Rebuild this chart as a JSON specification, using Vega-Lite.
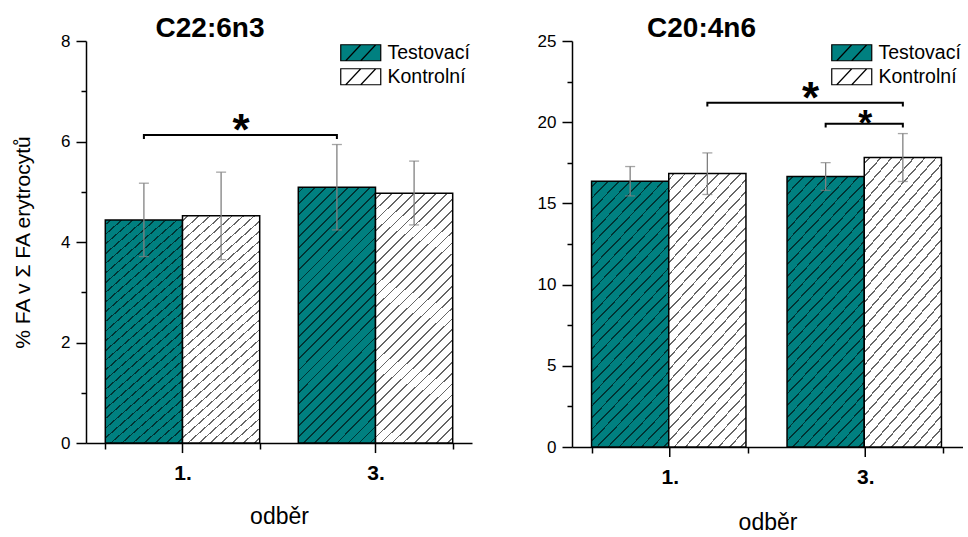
{
  "$schema": "https://vega.github.io/schema/vega-lite/v6.json",
  "background": "white",
  "padding": {"left": 12, "top": 15, "right": 0, "bottom": 0},
  "datasets": {
    "c22": [
      {"odber": "1.", "skupina": "Testovací", "mean": 4.44, "lo": 3.71, "hi": 5.17},
      {"odber": "1.", "skupina": "Kontrolní", "mean": 4.52, "lo": 3.65, "hi": 5.39},
      {"odber": "3.", "skupina": "Testovací", "mean": 5.09, "lo": 4.24, "hi": 5.94},
      {"odber": "3.", "skupina": "Kontrolní", "mean": 4.97, "lo": 4.34, "hi": 5.61}
    ],
    "c20": [
      {"odber": "1.", "skupina": "Testovací", "mean": 16.37, "lo": 15.46, "hi": 17.27},
      {"odber": "1.", "skupina": "Kontrolní", "mean": 16.84, "lo": 15.55, "hi": 18.11},
      {"odber": "3.", "skupina": "Testovací", "mean": 16.65, "lo": 15.8, "hi": 17.51},
      {"odber": "3.", "skupina": "Kontrolní", "mean": 17.82, "lo": 16.35, "hi": 19.3}
    ],
    "br22": [
      {"id": "a", "o": 1, "odber": "1.", "skupina": "Testovací", "v": 6.05},
      {"id": "a", "o": 2, "odber": "1.", "skupina": "Testovací", "v": 6.13},
      {"id": "a", "o": 3, "odber": "3.", "skupina": "Testovací", "v": 6.13},
      {"id": "a", "o": 4, "odber": "3.", "skupina": "Testovací", "v": 6.05}
    ],
    "br20": [
      {"id": "a", "o": 1, "odber": "1.", "skupina": "Kontrolní", "v": 20.97},
      {"id": "a", "o": 2, "odber": "1.", "skupina": "Kontrolní", "v": 21.2},
      {"id": "a", "o": 3, "odber": "3.", "skupina": "Kontrolní", "v": 21.2},
      {"id": "a", "o": 4, "odber": "3.", "skupina": "Kontrolní", "v": 20.97},
      {"id": "b", "o": 1, "odber": "3.", "skupina": "Testovací", "v": 19.68},
      {"id": "b", "o": 2, "odber": "3.", "skupina": "Testovací", "v": 19.9},
      {"id": "b", "o": 3, "odber": "3.", "skupina": "Kontrolní", "v": 19.9},
      {"id": "b", "o": 4, "odber": "3.", "skupina": "Kontrolní", "v": 19.68}
    ],
    "st22": [{"odber": "1.", "skupina": "Kontrolní", "v": 6.13, "t": "*"}],
    "st20big": [{"odber": "3.", "skupina": "Testovací", "v": 21.2, "t": "*"}],
    "st20small": [{"odber": "3.", "v": 19.9, "t": "*"}],
    "xt": [{"odber": "1."}, {"odber": "3."}]
  },
  "spacing": 65,
  "resolve": {"scale": {"fill": "independent"}},
  "hconcat": [
    {
      "width": 386,
      "height": 402,
      "title": {"text": "C22:6n3", "fontSize": 28, "fontWeight": "bold", "font": "Liberation Sans", "color": "black", "anchor": "middle", "dx": -69, "offset": -11, "frame": "group"},
      "layer": [
        {
          "data": {"name": "c22"},
          "mark": {"type": "bar", "stroke": "black", "strokeWidth": 1.5},
          "encoding": {
            "x": {"field": "odber", "type": "nominal", "sort": ["1.", "3."], "scale": {"paddingInner": 0.2, "paddingOuter": 0.1},
                  "axis": {"title": "odběr", "labelAngle": 0, "tickBand": "extent", "tickSize": 6, "labelFontWeight": "bold", "labelFontSize": 21, "labelPadding": 13, "titlePadding": 22, "titleFontSize": 23}},
            "xOffset": {"field": "skupina", "type": "nominal", "scale": {"domain": ["Testovací", "Kontrolní"], "paddingInner": 0, "paddingOuter": 0}},
            "y": {"field": "mean", "type": "quantitative", "scale": {"domain": [0, 8], "nice": false},
                  "axis": {"title": "% FA v Σ FA erytrocytů", "values": [0, 1, 2, 3, 4, 5, 6, 7, 8], "labelExpr": "datum.value % 2 === 0 ? datum.label : ''",
                           "tickSize": {"condition": {"test": "datum.value % 2 === 0", "value": 10}, "value": 5},
                           "labelPadding": 6, "labelFontSize": 17, "titleFontSize": 21, "titlePadding": 27}},
            "fill": {"field": "skupina", "type": "nominal", "scale": {"domain": ["Testovací", "Kontrolní"], "range": ["#008080", "#ffffff"]},
                     "legend": {"title": null, "orient": "top-right", "offset": 2, "padding": 0, "symbolType": "M-2.5,-1H2.5V1H-2.5Z M-1.875,1L0,-1 M0,1L1.875,-1", "symbolSize": 256, "symbolStrokeColor": "black", "symbolStrokeWidth": 1.2, "symbolOpacity": 1, "labelFontSize": 19.5, "labelFont": "Liberation Sans", "labelColor": "black", "labelOffset": 17, "rowPadding": 2}}
          }
        },
        {
          "data": {"name": "c22"},
          "mark": {"type": "bar", "stroke": null, "fill": {
          "gradient": "linear", "x1": 0, "y1": 0, "x2": 0.362, "y2": 1.194,
          "stops": [
            {"offset": 0.014, "color": "rgba(0,0,0,0)"}, {"offset": 0.014, "color": "rgba(0,0,0,0.6)"}, {"offset": 0.0193, "color": "rgba(0,0,0,0.6)"}, {"offset": 0.0193, "color": "rgba(0,0,0,0)"},
            {"offset": 0.0473, "color": "rgba(0,0,0,0)"}, {"offset": 0.0473, "color": "rgba(0,0,0,0.6)"}, {"offset": 0.0527, "color": "rgba(0,0,0,0.6)"}, {"offset": 0.0527, "color": "rgba(0,0,0,0)"},
            {"offset": 0.0807, "color": "rgba(0,0,0,0)"}, {"offset": 0.0807, "color": "rgba(0,0,0,0.6)"}, {"offset": 0.086, "color": "rgba(0,0,0,0.6)"}, {"offset": 0.086, "color": "rgba(0,0,0,0)"},
            {"offset": 0.114, "color": "rgba(0,0,0,0)"}, {"offset": 0.114, "color": "rgba(0,0,0,0.6)"}, {"offset": 0.1193, "color": "rgba(0,0,0,0.6)"}, {"offset": 0.1193, "color": "rgba(0,0,0,0)"},
            {"offset": 0.1473, "color": "rgba(0,0,0,0)"}, {"offset": 0.1473, "color": "rgba(0,0,0,0.6)"}, {"offset": 0.1527, "color": "rgba(0,0,0,0.6)"}, {"offset": 0.1527, "color": "rgba(0,0,0,0)"},
            {"offset": 0.1807, "color": "rgba(0,0,0,0)"}, {"offset": 0.1807, "color": "rgba(0,0,0,0.6)"}, {"offset": 0.186, "color": "rgba(0,0,0,0.6)"}, {"offset": 0.186, "color": "rgba(0,0,0,0)"},
            {"offset": 0.214, "color": "rgba(0,0,0,0)"}, {"offset": 0.214, "color": "rgba(0,0,0,0.6)"}, {"offset": 0.2193, "color": "rgba(0,0,0,0.6)"}, {"offset": 0.2193, "color": "rgba(0,0,0,0)"},
            {"offset": 0.2473, "color": "rgba(0,0,0,0)"}, {"offset": 0.2473, "color": "rgba(0,0,0,0.6)"}, {"offset": 0.2527, "color": "rgba(0,0,0,0.6)"}, {"offset": 0.2527, "color": "rgba(0,0,0,0)"},
            {"offset": 0.2807, "color": "rgba(0,0,0,0)"}, {"offset": 0.2807, "color": "rgba(0,0,0,0.6)"}, {"offset": 0.286, "color": "rgba(0,0,0,0.6)"}, {"offset": 0.286, "color": "rgba(0,0,0,0)"},
            {"offset": 0.314, "color": "rgba(0,0,0,0)"}, {"offset": 0.314, "color": "rgba(0,0,0,0.6)"}, {"offset": 0.3193, "color": "rgba(0,0,0,0.6)"}, {"offset": 0.3193, "color": "rgba(0,0,0,0)"},
            {"offset": 0.3473, "color": "rgba(0,0,0,0)"}, {"offset": 0.3473, "color": "rgba(0,0,0,0.6)"}, {"offset": 0.3527, "color": "rgba(0,0,0,0.6)"}, {"offset": 0.3527, "color": "rgba(0,0,0,0)"},
            {"offset": 0.3807, "color": "rgba(0,0,0,0)"}, {"offset": 0.3807, "color": "rgba(0,0,0,0.6)"}, {"offset": 0.386, "color": "rgba(0,0,0,0.6)"}, {"offset": 0.386, "color": "rgba(0,0,0,0)"},
            {"offset": 0.414, "color": "rgba(0,0,0,0)"}, {"offset": 0.414, "color": "rgba(0,0,0,0.6)"}, {"offset": 0.4193, "color": "rgba(0,0,0,0.6)"}, {"offset": 0.4193, "color": "rgba(0,0,0,0)"},
            {"offset": 0.4473, "color": "rgba(0,0,0,0)"}, {"offset": 0.4473, "color": "rgba(0,0,0,0.6)"}, {"offset": 0.4527, "color": "rgba(0,0,0,0.6)"}, {"offset": 0.4527, "color": "rgba(0,0,0,0)"},
            {"offset": 0.4807, "color": "rgba(0,0,0,0)"}, {"offset": 0.4807, "color": "rgba(0,0,0,0.6)"}, {"offset": 0.486, "color": "rgba(0,0,0,0.6)"}, {"offset": 0.486, "color": "rgba(0,0,0,0)"},
            {"offset": 0.514, "color": "rgba(0,0,0,0)"}, {"offset": 0.514, "color": "rgba(0,0,0,0.6)"}, {"offset": 0.5193, "color": "rgba(0,0,0,0.6)"}, {"offset": 0.5193, "color": "rgba(0,0,0,0)"},
            {"offset": 0.5473, "color": "rgba(0,0,0,0)"}, {"offset": 0.5473, "color": "rgba(0,0,0,0.6)"}, {"offset": 0.5527, "color": "rgba(0,0,0,0.6)"}, {"offset": 0.5527, "color": "rgba(0,0,0,0)"},
            {"offset": 0.5807, "color": "rgba(0,0,0,0)"}, {"offset": 0.5807, "color": "rgba(0,0,0,0.6)"}, {"offset": 0.586, "color": "rgba(0,0,0,0.6)"}, {"offset": 0.586, "color": "rgba(0,0,0,0)"},
            {"offset": 0.614, "color": "rgba(0,0,0,0)"}, {"offset": 0.614, "color": "rgba(0,0,0,0.6)"}, {"offset": 0.6193, "color": "rgba(0,0,0,0.6)"}, {"offset": 0.6193, "color": "rgba(0,0,0,0)"},
            {"offset": 0.6473, "color": "rgba(0,0,0,0)"}, {"offset": 0.6473, "color": "rgba(0,0,0,0.6)"}, {"offset": 0.6527, "color": "rgba(0,0,0,0.6)"}, {"offset": 0.6527, "color": "rgba(0,0,0,0)"},
            {"offset": 0.6807, "color": "rgba(0,0,0,0)"}, {"offset": 0.6807, "color": "rgba(0,0,0,0.6)"}, {"offset": 0.686, "color": "rgba(0,0,0,0.6)"}, {"offset": 0.686, "color": "rgba(0,0,0,0)"},
            {"offset": 0.714, "color": "rgba(0,0,0,0)"}, {"offset": 0.714, "color": "rgba(0,0,0,0.6)"}, {"offset": 0.7193, "color": "rgba(0,0,0,0.6)"}, {"offset": 0.7193, "color": "rgba(0,0,0,0)"},
            {"offset": 0.7473, "color": "rgba(0,0,0,0)"}, {"offset": 0.7473, "color": "rgba(0,0,0,0.6)"}, {"offset": 0.7527, "color": "rgba(0,0,0,0.6)"}, {"offset": 0.7527, "color": "rgba(0,0,0,0)"},
            {"offset": 0.7807, "color": "rgba(0,0,0,0)"}, {"offset": 0.7807, "color": "rgba(0,0,0,0.6)"}, {"offset": 0.786, "color": "rgba(0,0,0,0.6)"}, {"offset": 0.786, "color": "rgba(0,0,0,0)"},
            {"offset": 0.814, "color": "rgba(0,0,0,0)"}, {"offset": 0.814, "color": "rgba(0,0,0,0.6)"}, {"offset": 0.8193, "color": "rgba(0,0,0,0.6)"}, {"offset": 0.8193, "color": "rgba(0,0,0,0)"},
            {"offset": 0.8473, "color": "rgba(0,0,0,0)"}, {"offset": 0.8473, "color": "rgba(0,0,0,0.6)"}, {"offset": 0.8527, "color": "rgba(0,0,0,0.6)"}, {"offset": 0.8527, "color": "rgba(0,0,0,0)"},
            {"offset": 0.8807, "color": "rgba(0,0,0,0)"}, {"offset": 0.8807, "color": "rgba(0,0,0,0.6)"}, {"offset": 0.886, "color": "rgba(0,0,0,0.6)"}, {"offset": 0.886, "color": "rgba(0,0,0,0)"},
            {"offset": 0.914, "color": "rgba(0,0,0,0)"}, {"offset": 0.914, "color": "rgba(0,0,0,0.6)"}, {"offset": 0.9193, "color": "rgba(0,0,0,0.6)"}, {"offset": 0.9193, "color": "rgba(0,0,0,0)"},
            {"offset": 0.9473, "color": "rgba(0,0,0,0)"}, {"offset": 0.9473, "color": "rgba(0,0,0,0.6)"}, {"offset": 0.9527, "color": "rgba(0,0,0,0.6)"}, {"offset": 0.9527, "color": "rgba(0,0,0,0)"},
            {"offset": 0.9807, "color": "rgba(0,0,0,0)"}, {"offset": 0.9807, "color": "rgba(0,0,0,0.6)"}, {"offset": 0.986, "color": "rgba(0,0,0,0.6)"}, {"offset": 0.986, "color": "rgba(0,0,0,0)"}
          ]}},
          "encoding": {
            "x": {"field": "odber", "type": "nominal"},
            "xOffset": {"field": "skupina", "type": "nominal"},
            "y": {"field": "mean", "type": "quantitative"}
          }
        },
        {
          "data": {"name": "c22"},
          "mark": {"type": "rule", "color": "#808080", "strokeWidth": 1.3},
          "encoding": {
            "x": {"field": "odber", "type": "nominal"},
            "xOffset": {"field": "skupina", "type": "nominal"},
            "y": {"field": "lo", "type": "quantitative"},
            "y2": {"field": "hi"}
          }
        },
        {
          "data": {"name": "c22"},
          "mark": {"type": "tick", "color": "#808080", "thickness": 1.3, "size": 10},
          "encoding": {
            "x": {"field": "odber", "type": "nominal"},
            "xOffset": {"field": "skupina", "type": "nominal"},
            "y": {"field": "lo", "type": "quantitative"}
          }
        },
        {
          "data": {"name": "c22"},
          "mark": {"type": "tick", "color": "#808080", "thickness": 1.3, "size": 10},
          "encoding": {
            "x": {"field": "odber", "type": "nominal"},
            "xOffset": {"field": "skupina", "type": "nominal"},
            "y": {"field": "hi", "type": "quantitative"}
          }
        },
        {
          "data": {"name": "xt"},
          "mark": {"type": "rule", "color": "black", "strokeWidth": 1.5},
          "encoding": {
            "x": {"field": "odber", "type": "nominal"},
            "y": {"datum": 0},
            "y2": {"datum": -0.2}
          }
        },
        {
          "data": {"name": "br22"},
          "mark": {"type": "line", "color": "black", "strokeWidth": 2},
          "encoding": {
            "x": {"field": "odber", "type": "nominal"},
            "xOffset": {"field": "skupina", "type": "nominal"},
            "y": {"field": "v", "type": "quantitative"},
            "detail": {"field": "id"},
            "order": {"field": "o", "type": "quantitative"}
          }
        },
        {
          "data": {"name": "st22"},
          "mark": {"type": "text", "fontSize": 44, "fontWeight": "bold", "font": "Liberation Sans", "dx": 20, "dy": 10, "baseline": "alphabetic", "color": "black"},
          "encoding": {
            "x": {"field": "odber", "type": "nominal"},
            "xOffset": {"field": "skupina", "type": "nominal"},
            "y": {"field": "v", "type": "quantitative"},
            "text": {"field": "t"}
          }
        }
      ]
    },
    {
      "width": 391,
      "height": 406,
      "title": {"text": "C20:4n6", "fontSize": 28, "fontWeight": "bold", "font": "Liberation Sans", "color": "black", "anchor": "middle", "dx": -66, "offset": -11, "frame": "group"},
      "layer": [
        {
          "data": {"name": "c20"},
          "mark": {"type": "bar", "stroke": "black", "strokeWidth": 1.5},
          "encoding": {
            "x": {"field": "odber", "type": "nominal", "sort": ["1.", "3."], "scale": {"paddingInner": 0.2, "paddingOuter": 0.1},
                  "axis": {"title": "odběr", "labelAngle": 0, "tickBand": "extent", "tickSize": 6, "labelFontWeight": "bold", "labelFontSize": 21, "labelPadding": 13, "titlePadding": 24, "titleFontSize": 23}},
            "xOffset": {"field": "skupina", "type": "nominal", "scale": {"domain": ["Testovací", "Kontrolní"], "paddingInner": 0, "paddingOuter": 0}},
            "y": {"field": "mean", "type": "quantitative", "scale": {"domain": [0, 25], "nice": false},
                  "axis": {"title": null, "values": [0, 2.5, 5, 7.5, 10, 12.5, 15, 17.5, 20, 22.5, 25], "labelExpr": "datum.value % 5 === 0 ? datum.label : ''",
                           "tickSize": {"condition": {"test": "datum.value % 5 === 0", "value": 10}, "value": 5},
                           "labelPadding": 6, "labelFontSize": 17}},
            "fill": {"field": "skupina", "type": "nominal", "scale": {"domain": ["Testovací", "Kontrolní"], "range": ["#008080", "#ffffff"]},
                     "legend": {"title": null, "orient": "top-right", "offset": 2, "padding": 0, "symbolType": "M-2.5,-1H2.5V1H-2.5Z M-1.875,1L0,-1 M0,1L1.875,-1", "symbolSize": 256, "symbolStrokeColor": "black", "symbolStrokeWidth": 1.2, "symbolOpacity": 1, "labelFontSize": 19.5, "labelFont": "Liberation Sans", "labelColor": "black", "labelOffset": 17, "rowPadding": 2}}
          }
        },
        {
          "data": {"name": "c20"},
          "mark": {"type": "bar", "stroke": null, "fill": {
          "gradient": "linear", "x1": 0, "y1": 0, "x2": 0.362, "y2": 1.194,
          "stops": [
            {"offset": 0.014, "color": "rgba(0,0,0,0)"}, {"offset": 0.014, "color": "rgba(0,0,0,0.6)"}, {"offset": 0.0193, "color": "rgba(0,0,0,0.6)"}, {"offset": 0.0193, "color": "rgba(0,0,0,0)"},
            {"offset": 0.0473, "color": "rgba(0,0,0,0)"}, {"offset": 0.0473, "color": "rgba(0,0,0,0.6)"}, {"offset": 0.0527, "color": "rgba(0,0,0,0.6)"}, {"offset": 0.0527, "color": "rgba(0,0,0,0)"},
            {"offset": 0.0807, "color": "rgba(0,0,0,0)"}, {"offset": 0.0807, "color": "rgba(0,0,0,0.6)"}, {"offset": 0.086, "color": "rgba(0,0,0,0.6)"}, {"offset": 0.086, "color": "rgba(0,0,0,0)"},
            {"offset": 0.114, "color": "rgba(0,0,0,0)"}, {"offset": 0.114, "color": "rgba(0,0,0,0.6)"}, {"offset": 0.1193, "color": "rgba(0,0,0,0.6)"}, {"offset": 0.1193, "color": "rgba(0,0,0,0)"},
            {"offset": 0.1473, "color": "rgba(0,0,0,0)"}, {"offset": 0.1473, "color": "rgba(0,0,0,0.6)"}, {"offset": 0.1527, "color": "rgba(0,0,0,0.6)"}, {"offset": 0.1527, "color": "rgba(0,0,0,0)"},
            {"offset": 0.1807, "color": "rgba(0,0,0,0)"}, {"offset": 0.1807, "color": "rgba(0,0,0,0.6)"}, {"offset": 0.186, "color": "rgba(0,0,0,0.6)"}, {"offset": 0.186, "color": "rgba(0,0,0,0)"},
            {"offset": 0.214, "color": "rgba(0,0,0,0)"}, {"offset": 0.214, "color": "rgba(0,0,0,0.6)"}, {"offset": 0.2193, "color": "rgba(0,0,0,0.6)"}, {"offset": 0.2193, "color": "rgba(0,0,0,0)"},
            {"offset": 0.2473, "color": "rgba(0,0,0,0)"}, {"offset": 0.2473, "color": "rgba(0,0,0,0.6)"}, {"offset": 0.2527, "color": "rgba(0,0,0,0.6)"}, {"offset": 0.2527, "color": "rgba(0,0,0,0)"},
            {"offset": 0.2807, "color": "rgba(0,0,0,0)"}, {"offset": 0.2807, "color": "rgba(0,0,0,0.6)"}, {"offset": 0.286, "color": "rgba(0,0,0,0.6)"}, {"offset": 0.286, "color": "rgba(0,0,0,0)"},
            {"offset": 0.314, "color": "rgba(0,0,0,0)"}, {"offset": 0.314, "color": "rgba(0,0,0,0.6)"}, {"offset": 0.3193, "color": "rgba(0,0,0,0.6)"}, {"offset": 0.3193, "color": "rgba(0,0,0,0)"},
            {"offset": 0.3473, "color": "rgba(0,0,0,0)"}, {"offset": 0.3473, "color": "rgba(0,0,0,0.6)"}, {"offset": 0.3527, "color": "rgba(0,0,0,0.6)"}, {"offset": 0.3527, "color": "rgba(0,0,0,0)"},
            {"offset": 0.3807, "color": "rgba(0,0,0,0)"}, {"offset": 0.3807, "color": "rgba(0,0,0,0.6)"}, {"offset": 0.386, "color": "rgba(0,0,0,0.6)"}, {"offset": 0.386, "color": "rgba(0,0,0,0)"},
            {"offset": 0.414, "color": "rgba(0,0,0,0)"}, {"offset": 0.414, "color": "rgba(0,0,0,0.6)"}, {"offset": 0.4193, "color": "rgba(0,0,0,0.6)"}, {"offset": 0.4193, "color": "rgba(0,0,0,0)"},
            {"offset": 0.4473, "color": "rgba(0,0,0,0)"}, {"offset": 0.4473, "color": "rgba(0,0,0,0.6)"}, {"offset": 0.4527, "color": "rgba(0,0,0,0.6)"}, {"offset": 0.4527, "color": "rgba(0,0,0,0)"},
            {"offset": 0.4807, "color": "rgba(0,0,0,0)"}, {"offset": 0.4807, "color": "rgba(0,0,0,0.6)"}, {"offset": 0.486, "color": "rgba(0,0,0,0.6)"}, {"offset": 0.486, "color": "rgba(0,0,0,0)"},
            {"offset": 0.514, "color": "rgba(0,0,0,0)"}, {"offset": 0.514, "color": "rgba(0,0,0,0.6)"}, {"offset": 0.5193, "color": "rgba(0,0,0,0.6)"}, {"offset": 0.5193, "color": "rgba(0,0,0,0)"},
            {"offset": 0.5473, "color": "rgba(0,0,0,0)"}, {"offset": 0.5473, "color": "rgba(0,0,0,0.6)"}, {"offset": 0.5527, "color": "rgba(0,0,0,0.6)"}, {"offset": 0.5527, "color": "rgba(0,0,0,0)"},
            {"offset": 0.5807, "color": "rgba(0,0,0,0)"}, {"offset": 0.5807, "color": "rgba(0,0,0,0.6)"}, {"offset": 0.586, "color": "rgba(0,0,0,0.6)"}, {"offset": 0.586, "color": "rgba(0,0,0,0)"},
            {"offset": 0.614, "color": "rgba(0,0,0,0)"}, {"offset": 0.614, "color": "rgba(0,0,0,0.6)"}, {"offset": 0.6193, "color": "rgba(0,0,0,0.6)"}, {"offset": 0.6193, "color": "rgba(0,0,0,0)"},
            {"offset": 0.6473, "color": "rgba(0,0,0,0)"}, {"offset": 0.6473, "color": "rgba(0,0,0,0.6)"}, {"offset": 0.6527, "color": "rgba(0,0,0,0.6)"}, {"offset": 0.6527, "color": "rgba(0,0,0,0)"},
            {"offset": 0.6807, "color": "rgba(0,0,0,0)"}, {"offset": 0.6807, "color": "rgba(0,0,0,0.6)"}, {"offset": 0.686, "color": "rgba(0,0,0,0.6)"}, {"offset": 0.686, "color": "rgba(0,0,0,0)"},
            {"offset": 0.714, "color": "rgba(0,0,0,0)"}, {"offset": 0.714, "color": "rgba(0,0,0,0.6)"}, {"offset": 0.7193, "color": "rgba(0,0,0,0.6)"}, {"offset": 0.7193, "color": "rgba(0,0,0,0)"},
            {"offset": 0.7473, "color": "rgba(0,0,0,0)"}, {"offset": 0.7473, "color": "rgba(0,0,0,0.6)"}, {"offset": 0.7527, "color": "rgba(0,0,0,0.6)"}, {"offset": 0.7527, "color": "rgba(0,0,0,0)"},
            {"offset": 0.7807, "color": "rgba(0,0,0,0)"}, {"offset": 0.7807, "color": "rgba(0,0,0,0.6)"}, {"offset": 0.786, "color": "rgba(0,0,0,0.6)"}, {"offset": 0.786, "color": "rgba(0,0,0,0)"},
            {"offset": 0.814, "color": "rgba(0,0,0,0)"}, {"offset": 0.814, "color": "rgba(0,0,0,0.6)"}, {"offset": 0.8193, "color": "rgba(0,0,0,0.6)"}, {"offset": 0.8193, "color": "rgba(0,0,0,0)"},
            {"offset": 0.8473, "color": "rgba(0,0,0,0)"}, {"offset": 0.8473, "color": "rgba(0,0,0,0.6)"}, {"offset": 0.8527, "color": "rgba(0,0,0,0.6)"}, {"offset": 0.8527, "color": "rgba(0,0,0,0)"},
            {"offset": 0.8807, "color": "rgba(0,0,0,0)"}, {"offset": 0.8807, "color": "rgba(0,0,0,0.6)"}, {"offset": 0.886, "color": "rgba(0,0,0,0.6)"}, {"offset": 0.886, "color": "rgba(0,0,0,0)"},
            {"offset": 0.914, "color": "rgba(0,0,0,0)"}, {"offset": 0.914, "color": "rgba(0,0,0,0.6)"}, {"offset": 0.9193, "color": "rgba(0,0,0,0.6)"}, {"offset": 0.9193, "color": "rgba(0,0,0,0)"},
            {"offset": 0.9473, "color": "rgba(0,0,0,0)"}, {"offset": 0.9473, "color": "rgba(0,0,0,0.6)"}, {"offset": 0.9527, "color": "rgba(0,0,0,0.6)"}, {"offset": 0.9527, "color": "rgba(0,0,0,0)"},
            {"offset": 0.9807, "color": "rgba(0,0,0,0)"}, {"offset": 0.9807, "color": "rgba(0,0,0,0.6)"}, {"offset": 0.986, "color": "rgba(0,0,0,0.6)"}, {"offset": 0.986, "color": "rgba(0,0,0,0)"}
          ]}},
          "encoding": {
            "x": {"field": "odber", "type": "nominal"},
            "xOffset": {"field": "skupina", "type": "nominal"},
            "y": {"field": "mean", "type": "quantitative"}
          }
        },
        {
          "data": {"name": "c20"},
          "mark": {"type": "rule", "color": "#808080", "strokeWidth": 1.3},
          "encoding": {
            "x": {"field": "odber", "type": "nominal"},
            "xOffset": {"field": "skupina", "type": "nominal"},
            "y": {"field": "lo", "type": "quantitative"},
            "y2": {"field": "hi"}
          }
        },
        {
          "data": {"name": "c20"},
          "mark": {"type": "tick", "color": "#808080", "thickness": 1.3, "size": 10},
          "encoding": {
            "x": {"field": "odber", "type": "nominal"},
            "xOffset": {"field": "skupina", "type": "nominal"},
            "y": {"field": "lo", "type": "quantitative"}
          }
        },
        {
          "data": {"name": "c20"},
          "mark": {"type": "tick", "color": "#808080", "thickness": 1.3, "size": 10},
          "encoding": {
            "x": {"field": "odber", "type": "nominal"},
            "xOffset": {"field": "skupina", "type": "nominal"},
            "y": {"field": "hi", "type": "quantitative"}
          }
        },
        {
          "data": {"name": "xt"},
          "mark": {"type": "rule", "color": "black", "strokeWidth": 1.5},
          "encoding": {
            "x": {"field": "odber", "type": "nominal"},
            "y": {"datum": 0},
            "y2": {"datum": -0.62}
          }
        },
        {
          "data": {"name": "br20"},
          "mark": {"type": "line", "color": "black", "strokeWidth": 2},
          "encoding": {
            "x": {"field": "odber", "type": "nominal"},
            "xOffset": {"field": "skupina", "type": "nominal"},
            "y": {"field": "v", "type": "quantitative"},
            "detail": {"field": "id"},
            "order": {"field": "o", "type": "quantitative"}
          }
        },
        {
          "data": {"name": "st20big"},
          "mark": {"type": "text", "fontSize": 44, "fontWeight": "bold", "font": "Liberation Sans", "dx": -15, "dy": 10, "baseline": "alphabetic", "color": "black"},
          "encoding": {
            "x": {"field": "odber", "type": "nominal"},
            "xOffset": {"field": "skupina", "type": "nominal"},
            "y": {"field": "v", "type": "quantitative"},
            "text": {"field": "t"}
          }
        },
        {
          "data": {"name": "st20small"},
          "mark": {"type": "text", "fontSize": 36, "fontWeight": "bold", "font": "Liberation Sans", "dy": 12, "baseline": "alphabetic", "color": "black"},
          "encoding": {
            "x": {"field": "odber", "type": "nominal"},
            "y": {"field": "v", "type": "quantitative"},
            "text": {"field": "t"}
          }
        }
      ]
    }
  ],
  "config": {
    "font": "Liberation Sans",
    "view": {"stroke": null},
    "axis": {"grid": false, "domainColor": "black", "domainWidth": 1.5, "tickColor": "black", "tickWidth": 1.5, "labelColor": "black", "titleColor": "black", "labelFont": "Liberation Sans", "titleFont": "Liberation Sans", "titleFontWeight": "normal"}
  }
}
